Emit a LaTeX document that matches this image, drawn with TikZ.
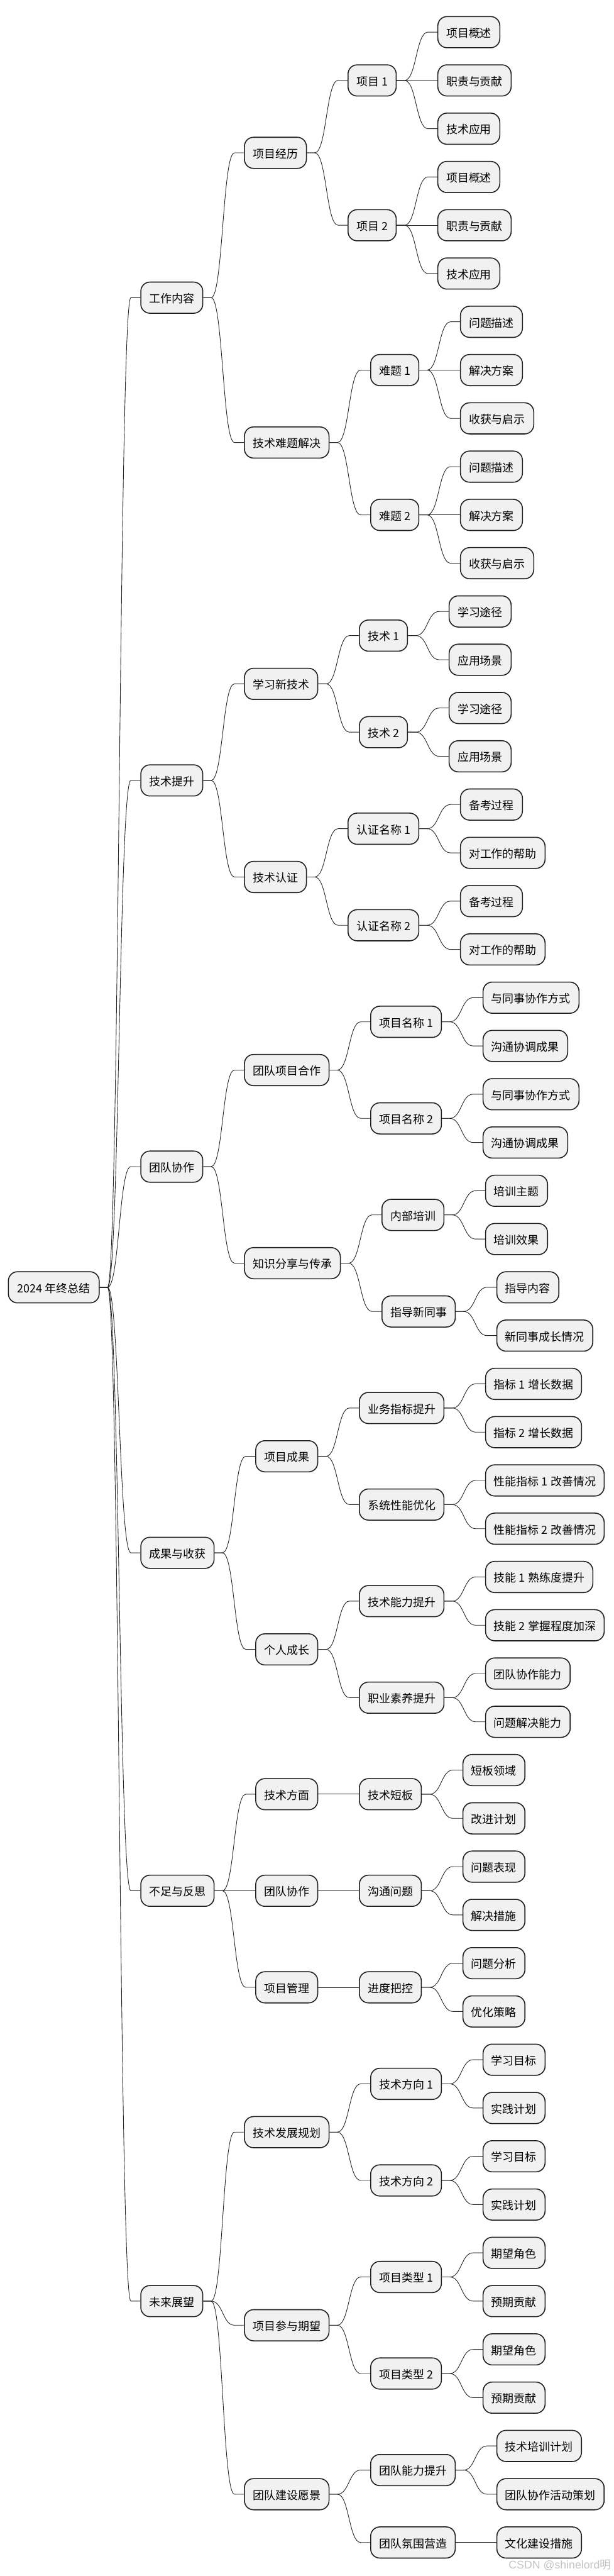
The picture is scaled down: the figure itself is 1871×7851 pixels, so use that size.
\documentclass[tikz,border=0pt]{standalone}
\usepackage{fontspec}
\newfontfamily\cjk{Noto Sans CJK SC}
\newfontfamily\wmlatin{Liberation Sans}
\usetikzlibrary{calc}
\definecolor{boxfill}{HTML}{F1F1F1}
\definecolor{boxline}{HTML}{1E1E1E}
\definecolor{linkc}{HTML}{222222}
\definecolor{wmark}{HTML}{C4C4C4}
\tikzset{
  mmbox/.style={draw=boxline, line width=1.5pt, fill=boxfill, rounded corners=14pt,
    minimum height=47.5pt, inner xsep=12.75pt, inner ysep=0pt,
    text height=18.1pt, text depth=2.1pt,
    font=\cjk\fontsize{17.25pt}{20pt}\selectfont, anchor=west},
  link/.style={draw=linkc, line width=0.85pt},
}
\newcommand\kid[4]{%
  \pgfmathsetmacro\mmY{98+147.13*(#3)}%
  \path (#1.east) ++(124,0) coordinate (#2-w);%
  \node[mmbox] (#2) at (#2-w |- 0,\mmY) {#4};%
  \draw[link] (#1.east) -- ++(24,0) .. controls +(36,0) and +(-36,0) .. ($(#2.west)+(-29,0)$) -- (#2.west);%
}
\begin{document}
\begin{tikzpicture}[x=0.5pt,y=-0.5pt]
\fill[white] (0,0) rectangle (1871,7851);
\useasboundingbox (0,0) rectangle (1871,7851);
\node[mmbox, minimum width=138.5pt] (root) at (24,3923.4) {2024 年终总结};
% 工作内容
\kid{root}{a}{5.5}{工作内容}
\kid{a}{a1}{2.5}{项目经历}
\kid{a1}{a11}{1}{项目 1}
\kid{a11}{a111}{0}{项目概述}
\kid{a11}{a112}{1}{职责与贡献}
\kid{a11}{a113}{2}{技术应用}
\kid{a1}{a12}{4}{项目 2}
\kid{a12}{a121}{3}{项目概述}
\kid{a12}{a122}{4}{职责与贡献}
\kid{a12}{a123}{5}{技术应用}
\kid{a}{a2}{8.5}{技术难题解决}
\kid{a2}{a21}{7}{难题 1}
\kid{a21}{a211}{6}{问题描述}
\kid{a21}{a212}{7}{解决方案}
\kid{a21}{a213}{8}{收获与启示}
\kid{a2}{a22}{10}{难题 2}
\kid{a22}{a221}{9}{问题描述}
\kid{a22}{a222}{10}{解决方案}
\kid{a22}{a223}{11}{收获与启示}
% 技术提升
\kid{root}{b}{15.5}{技术提升}
\kid{b}{b1}{13.5}{学习新技术}
\kid{b1}{b11}{12.5}{技术 1}
\kid{b11}{b111}{12}{学习途径}
\kid{b11}{b112}{13}{应用场景}
\kid{b1}{b12}{14.5}{技术 2}
\kid{b12}{b121}{14}{学习途径}
\kid{b12}{b122}{15}{应用场景}
\kid{b}{b2}{17.5}{技术认证}
\kid{b2}{b21}{16.5}{认证名称 1}
\kid{b21}{b211}{16}{备考过程}
\kid{b21}{b212}{17}{对工作的帮助}
\kid{b2}{b22}{18.5}{认证名称 2}
\kid{b22}{b221}{18}{备考过程}
\kid{b22}{b222}{19}{对工作的帮助}
% 团队协作
\kid{root}{c}{23.5}{团队协作}
\kid{c}{c1}{21.5}{团队项目合作}
\kid{c1}{c11}{20.5}{项目名称 1}
\kid{c11}{c111}{20}{与同事协作方式}
\kid{c11}{c112}{21}{沟通协调成果}
\kid{c1}{c12}{22.5}{项目名称 2}
\kid{c12}{c121}{22}{与同事协作方式}
\kid{c12}{c122}{23}{沟通协调成果}
\kid{c}{c2}{25.5}{知识分享与传承}
\kid{c2}{c21}{24.5}{内部培训}
\kid{c21}{c211}{24}{培训主题}
\kid{c21}{c212}{25}{培训效果}
\kid{c2}{c22}{26.5}{指导新同事}
\kid{c22}{c221}{26}{指导内容}
\kid{c22}{c222}{27}{新同事成长情况}
% 成果与收获
\kid{root}{d}{31.5}{成果与收获}
\kid{d}{d1}{29.5}{项目成果}
\kid{d1}{d11}{28.5}{业务指标提升}
\kid{d11}{d111}{28}{指标 1 增长数据}
\kid{d11}{d112}{29}{指标 2 增长数据}
\kid{d1}{d12}{30.5}{系统性能优化}
\kid{d12}{d121}{30}{性能指标 1 改善情况}
\kid{d12}{d122}{31}{性能指标 2 改善情况}
\kid{d}{d2}{33.5}{个人成长}
\kid{d2}{d21}{32.5}{技术能力提升}
\kid{d21}{d211}{32}{技能 1 熟练度提升}
\kid{d21}{d212}{33}{技能 2 掌握程度加深}
\kid{d2}{d22}{34.5}{职业素养提升}
\kid{d22}{d221}{34}{团队协作能力}
\kid{d22}{d222}{35}{问题解决能力}
% 不足与反思
\kid{root}{e}{38.5}{不足与反思}
\kid{e}{e1}{36.5}{技术方面}
\kid{e1}{e11}{36.5}{技术短板}
\kid{e11}{e111}{36}{短板领域}
\kid{e11}{e112}{37}{改进计划}
\kid{e}{e2}{38.5}{团队协作}
\kid{e2}{e21}{38.5}{沟通问题}
\kid{e21}{e211}{38}{问题表现}
\kid{e21}{e212}{39}{解决措施}
\kid{e}{e3}{40.5}{项目管理}
\kid{e3}{e31}{40.5}{进度把控}
\kid{e31}{e311}{40}{问题分析}
\kid{e31}{e312}{41}{优化策略}
% 未来展望
\kid{root}{f}{47}{未来展望}
\kid{f}{f1}{43.5}{技术发展规划}
\kid{f1}{f11}{42.5}{技术方向 1}
\kid{f11}{f111}{42}{学习目标}
\kid{f11}{f112}{43}{实践计划}
\kid{f1}{f12}{44.5}{技术方向 2}
\kid{f12}{f121}{44}{学习目标}
\kid{f12}{f122}{45}{实践计划}
\kid{f}{f2}{47.5}{项目参与期望}
\kid{f2}{f21}{46.5}{项目类型 1}
\kid{f21}{f211}{46}{期望角色}
\kid{f21}{f212}{47}{预期贡献}
\kid{f2}{f22}{48.5}{项目类型 2}
\kid{f22}{f221}{48}{期望角色}
\kid{f22}{f222}{49}{预期贡献}
\kid{f}{f3}{51}{团队建设愿景}
\kid{f3}{f31}{50.5}{团队能力提升}
\kid{f31}{f311}{50}{技术培训计划}
\kid{f31}{f312}{51}{团队协作活动策划}
\kid{f3}{f32}{52}{团队氛围营造}
\kid{f32}{f321}{52}{文化建设措施}
% watermark
\node[anchor=base east, text=wmark, inner sep=0pt, font=\fontsize{17pt}{20pt}\selectfont] (wm) at (1864,7829) {\wmlatin CSDN @shinelord\cjk 明};
\end{tikzpicture}
\end{document}
